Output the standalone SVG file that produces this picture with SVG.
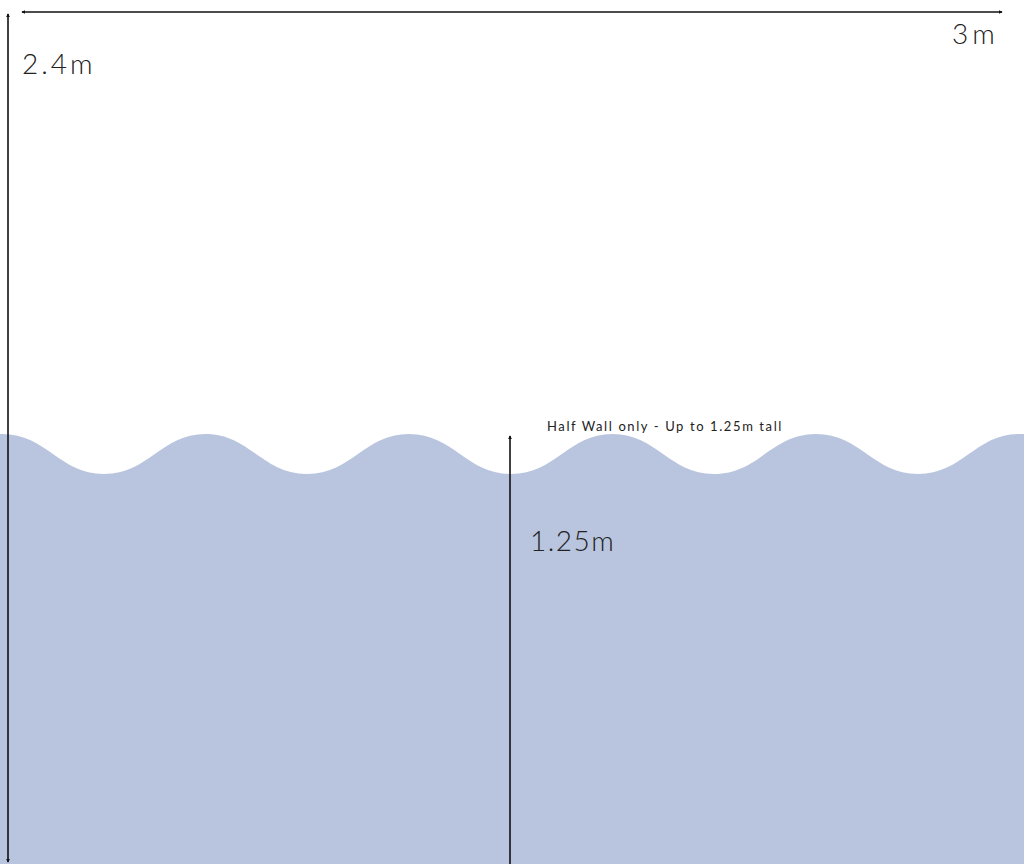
<svg xmlns="http://www.w3.org/2000/svg" width="1024" height="864" viewBox="0 0 1024 864">
<style>
.dim{stroke:#111;stroke-width:1.6;fill:none}
.lbl{font-family:Lato,"Liberation Sans",sans-serif;font-weight:300;fill:#222}
</style>
<defs>
<marker id="ah" viewBox="0 0 6 6" refX="5" refY="3" markerWidth="2.6" markerHeight="2.6" orient="auto-start-reverse"><path d="M0,0 L6,3 L0,6 z" fill="#111"/></marker>
</defs>
<rect width="1024" height="864" fill="#fff"/>
<g id="wall">
<path fill="#b9c5df" d="M0,434 L2,434 C47,434 59,474 104,474 C149,474 161,434 205.5,434 C250,434 262,474 307,474 C352,474 364,434 409,434 C454,434 466,474 511,474 C556,474 568,434 612.5,434 C657,434 669,474 714,474 C759,474 771,434 816,434 C861,434 873,474 918,474 C963,474 975,434 1019.5,434 L1024,434 L1024,864 L0,864 z"/>
</g>
<g id="connectors">
<line class="dim" x1="22" y1="12" x2="1002" y2="12" marker-start="url(#ah)" marker-end="url(#ah)"/>
<line class="dim" x1="8" y1="14" x2="8" y2="862" marker-start="url(#ah)" marker-end="url(#ah)"/>
<line class="dim" x1="510" y1="436" x2="510" y2="864" marker-start="url(#ah)"/>
</g>
<g id="labels">
<text class="lbl" x="22" y="74" font-size="28" letter-spacing="3">2.4m</text>
<text class="lbl" x="952" y="44" font-size="28" letter-spacing="4">3m</text>
<text class="lbl" x="530" y="551" font-size="28" letter-spacing="1.5">1.25m</text>
<text class="lbl" x="547" y="431" font-size="13" letter-spacing="1.6" style="font-weight:400">Half Wall only - Up to 1.25m tall</text>
</g>
</svg>
